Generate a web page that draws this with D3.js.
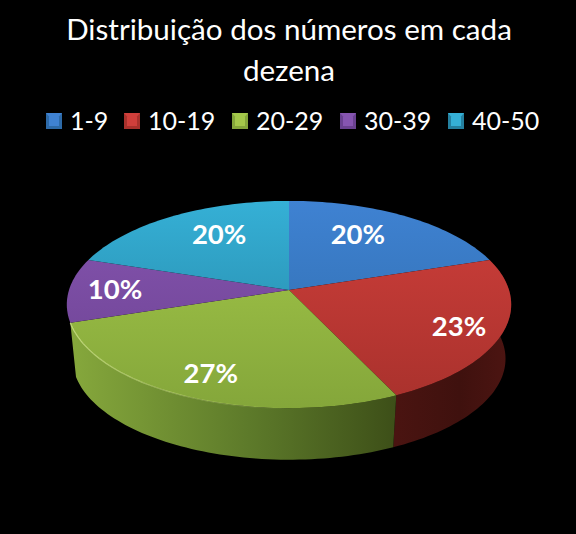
<!DOCTYPE html>
<html lang="pt">
  <head>
    <meta charset="UTF-8" />
    <script src="https://d3js.org/d3.v7.min.js"></script>
    <title>Distribuição dos números em cada dezena</title>
    <style>
      html, body { margin: 0; background: #000; }
      svg { display: block; }
      text { font-family: Lato, "Open Sans", sans-serif; }
    </style>
  </head>
  <body>
    <div id="chart"></div>
    <script>
      var categories = ["1-9", "10-19", "20-29", "30-39", "40-50"];
      var percents = [20, 23, 27, 10, 20];
      var titleLines = ["Distribuição dos números em cada", "dezena"];

      var topLight = ["#3f82d2", "#cf3f3b", "#a4c84a", "#8655b0", "#35b0d6"];
      var topDark = ["#2d6aa8", "#a8312c", "#84a63a", "#6a4190", "#24809f"];
      var sideLight = ["#24538a", "#4a1411", "#86a83c", "#54336f", "#1d6a85"];
      var sideMid = ["#1f4877", "#3f110e", "#5d7a2a", "#472b5e", "#185a71"];
      var sideDark = ["#1a3c64", "#4d1512", "#3d4f18", "#3a234e", "#134a5d"];

      // best fit offsets for the value labels
      var labelNudge = [[-15, -3], [23, 7], [-11, 11], [-20, -1], [14, -3]];

      var width = 576,
        height = 534,
        cx = 289,
        cy = 290,
        radiusX = 220,
        yGain = 61,
        tilt = -0.14,
        depth = 55;

      var svg = d3.select("#chart").append("svg").attr("width", width).attr("height", height);
      var defs = svg.append("defs");

      // circle to screen, nearer edge gets bigger
      function project(angle, r, drop) {
        var u = r * Math.sin(angle),
          v = -r * Math.cos(angle),
          w = 1 + tilt * v;
        return [cx + (radiusX * u) / w, (cy + yGain * v) / w + drop];
      }

      var line = d3.line();

      function arcPoints(a0, a1, r, drop) {
        var n = Math.max(2, Math.ceil((a1 - a0) * 40));
        return d3.range(n + 1).map(function (i) {
          return project(a0 + ((a1 - a0) * i) / n, r, drop);
        });
      }

      function midAngle(d) {
        return (d.startAngle + d.endAngle) / 2;
      }

      var slices = d3.pie().sort(null).value(function (d) { return d; })(percents);

      slices.forEach(function (d) {
        var top = defs.append("linearGradient").attr("id", "top-" + d.index)
          .attr("gradientUnits", "userSpaceOnUse")
          .attr("x1", 0).attr("x2", 0).attr("y1", 200).attr("y2", 410);
        top.append("stop").attr("offset", 0).attr("stop-color", topLight[d.index]);
        top.append("stop").attr("offset", 1).attr("stop-color", topDark[d.index]);

        var xs = d3.extent(arcPoints(d.startAngle, d.endAngle, 1, 0), function (p) { return p[0]; });
        var side = defs.append("linearGradient").attr("id", "side-" + d.index)
          .attr("gradientUnits", "userSpaceOnUse")
          .attr("x1", xs[0]).attr("x2", xs[1]).attr("y1", 0).attr("y2", 0);
        side.append("stop").attr("offset", 0).attr("stop-color", sideLight[d.index]);
        side.append("stop").attr("offset", 0.55).attr("stop-color", sideMid[d.index]);
        side.append("stop").attr("offset", 1).attr("stop-color", sideDark[d.index]);
      });

      var rimFade = defs.append("linearGradient").attr("id", "rim")
        .attr("gradientUnits", "userSpaceOnUse")
        .attr("x1", 70).attr("x2", 290).attr("y1", 0).attr("y2", 0);
      rimFade.append("stop").attr("offset", 0).attr("stop-color", "#d8ee90").attr("stop-opacity", 0.8);
      rimFade.append("stop").attr("offset", 1).attr("stop-color", "#d8ee90").attr("stop-opacity", 0);

      // only the slices facing the viewer show a wall
      var frontSlices = slices.filter(function (d) {
        return -Math.cos(midAngle(d)) > 0.1;
      });

      svg.append("g").selectAll("path").data(frontSlices).enter().append("path")
        .attr("d", function (d) {
          var upper = arcPoints(d.startAngle, d.endAngle, 1, 0),
            lower = arcPoints(d.startAngle, d.endAngle, 0.975, depth).reverse();
          return line(upper.concat(lower)) + "Z";
        })
        .attr("fill", function (d) { return "url(#side-" + d.index + ")"; });

      svg.append("g").selectAll("path").data(slices).enter().append("path")
        .attr("d", function (d) {
          return line([[cx, cy]].concat(arcPoints(d.startAngle, d.endAngle, 1, 0))) + "Z";
        })
        .attr("fill", function (d) { return "url(#top-" + d.index + ")"; });

      svg.append("g").selectAll("path").data(frontSlices).enter().append("path")
        .attr("d", function (d) { return line(arcPoints(d.startAngle, d.endAngle, 1, 0)); })
        .attr("fill", "none")
        .attr("stroke", "url(#rim)")
        .attr("stroke-width", 1.2);

      // value labels
      svg.append("g").selectAll("text").data(slices).enter().append("text")
        .attr("x", function (d) { return project(midAngle(d), 0.7, 0)[0] + labelNudge[d.index][0]; })
        .attr("y", function (d) { return project(midAngle(d), 0.7, 0)[1] + labelNudge[d.index][1] + 10; })
        .attr("text-anchor", "middle")
        .attr("fill", "#fff")
        .attr("font-size", 27.5)
        .attr("font-weight", 700)
        .text(function (d) { return d.value + "%"; });

      svg.append("g").selectAll("text").data(titleLines).enter().append("text")
        .attr("x", cx)
        .attr("y", function (d, i) { return 40 + i * 41; })
        .attr("text-anchor", "middle")
        .attr("fill", "#fff")
        .attr("font-size", 29.6)
        .text(function (d) { return d; });

      // legend
      var legendX = d3.scaleOrdinal().domain(categories).range([46, 124, 232, 340, 448]);
      var legend = svg.append("g").selectAll("g").data(categories).enter().append("g")
        .attr("transform", function (d) { return "translate(" + legendX(d) + ",113)"; });

      legend.append("rect").attr("width", 16).attr("height", 16)
        .attr("fill", function (d, i) { return topDark[i]; });
      legend.append("path").attr("d", "M0,0H16L12.5,4H3.5Z")
        .attr("fill", function (d, i) { return topLight[i]; });
      legend.append("rect").attr("x", 3).attr("y", 4).attr("width", 10).attr("height", 9)
        .attr("fill", function (d, i) { return topLight[i]; });
      legend.append("text").attr("x", 24).attr("y", 16.5)
        .attr("fill", "#fff")
        .attr("font-size", 25)
        .text(function (d) { return d; });
    </script>
  </body>
</html>
